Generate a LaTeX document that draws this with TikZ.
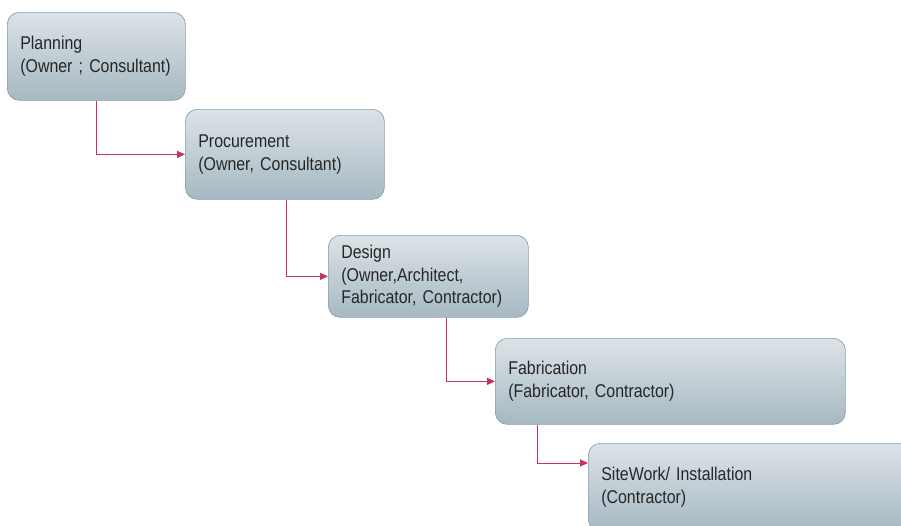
\documentclass[tikz,border=0pt]{standalone}
\usepackage{fontspec}
\setmainfont[FakeStretch=0.86]{Liberation Sans}
\usetikzlibrary{arrows.meta}
\definecolor{boxtop}{HTML}{DCE3E7}
\definecolor{boxmid}{HTML}{C9D4DA}
\definecolor{boxbot}{HTML}{A6B8C2}
\definecolor{boxline}{HTML}{86A0B2}
\definecolor{linkred}{HTML}{C8305E}
\tikzset{
  stage/.style={draw=boxline, line width=0.7pt, rounded corners=12pt,
    top color=boxtop, middle color=boxmid, bottom color=boxbot,
    anchor=north west,
    align=left, inner xsep=13pt, inner ysep=0pt,
    font=\fontsize{18.5}{22.5}\selectfont, text=black!85},
  link/.style={draw=linkred, line width=0.9pt,
    -{Triangle[length=8pt,width=7pt]}}
}
\begin{document}
\begin{tikzpicture}[x=1pt,y=-1pt]
  \clip (0,0) rectangle (901,525);
  \fill[white] (0,0) rectangle (901,525);

  \node[stage, text width=152pt, minimum height=88pt] (plan) at (7,12)
    {Planning\\(Owner ; Consultant)};
  \node[stage, text width=173pt, minimum height=90pt] (proc) at (185,109)
    {Procurement\\(Owner, Consultant)};
  \node[stage, text width=174pt, minimum height=82pt] (design) at (328,235)
    {Design\\(Owner,Architect,\\Fabricator, Contractor)};
  \node[stage, text width=324pt, minimum height=86pt] (fab) at (495,338)
    {Fabrication\\(Fabricator, Contractor)};
  \node[stage, text width=314pt, minimum height=88pt] (site) at (588,443)
    {SiteWork/ Installation\\(Contractor)};

  \draw[link] (plan.south) |- (proc.west);
  \draw[link] ([xshift=1.5pt]proc.south) |- (design.west);
  \draw[link] ([xshift=118pt]design.south west) |- (fab.west);
  \draw[link] ([xshift=42pt]fab.south west) |- ([yshift=-20pt]site.north west);
\end{tikzpicture}
\end{document}
